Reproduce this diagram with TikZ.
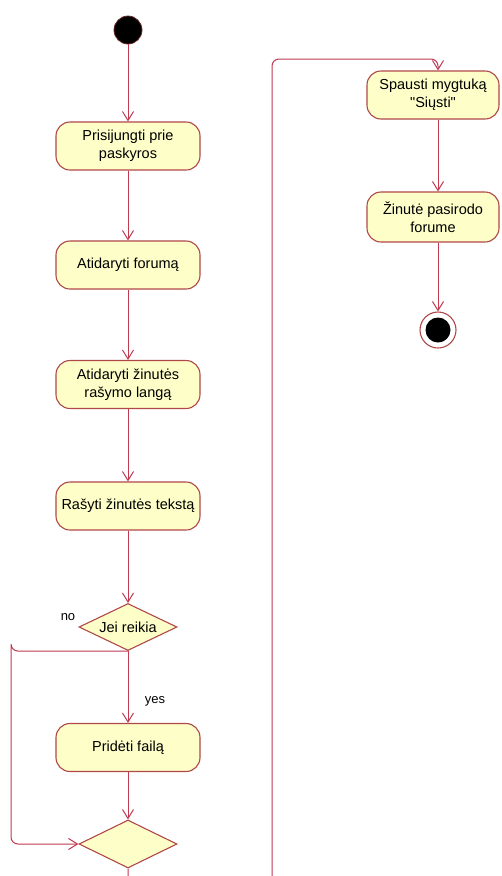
\documentclass[tikz,border=0pt]{standalone}
\usepackage{fontspec}
\setmainfont{Liberation Sans}[Ligatures=TeXOff]
\usetikzlibrary{shapes.geometric,arrows.meta}

\definecolor{actfill}{HTML}{FEFEC8}
\definecolor{boxline}{HTML}{B04848}
\definecolor{flowline}{HTML}{C03A50}

\begin{document}
\begin{tikzpicture}[
  x=1pt, y=-1pt,
  action/.style={rectangle, rounded corners=14pt, draw=boxline, fill=actfill,
    line width=1.1pt, minimum width=144pt, minimum height=48pt, inner sep=0pt,
    align=center, font=\fontsize{14.5}{18}\selectfont},
  decision/.style={diamond, aspect=2.1, draw=boxline, fill=actfill,
    line width=1.1pt, minimum width=98pt, minimum height=47pt, inner sep=0pt,
    font=\fontsize{14.5}{18}\selectfont},
  startdot/.style={circle, fill=black, draw=boxline!60!black, line width=0.8pt,
    minimum size=28pt, inner sep=0pt},
  enddot/.style={circle, draw=boxline, fill=white, line width=1.1pt,
    minimum size=36pt, inner sep=0pt,
    path picture={\fill[black] (path picture bounding box.center) circle (12.5pt);}},
  flow/.style={draw=flowline, line width=1pt,
    -{Straight Barb[length=9pt,width=11pt,line width=1pt]}},
  guard/.style={font=\fontsize{13}{15}\selectfont}
]
\fill[white] (0,0) rectangle (501,876);
\clip (0,0) rectangle (501,876);

% left column of actions
\node[startdot] (start) at (128,30) {};
\node[action] (login) at (128,146) {Prisijungti prie\\paskyros};
\node[action] (forum) at (128,265) {Atidaryti forumą};
\node[action] (window) at (128,384.5) {Atidaryti žinutės\\rašymo langą};
\node[action] (write) at (128,506) {Rašyti žinutės tekstą};
\node[decision] (need) at (128,627) {Jei reikia};
\node[action] (attach) at (128,747.5) {Pridėti failą};
\node[decision, minimum height=48pt] (merge) at (128,844) {};

% guard labels
\node[guard] (nolbl) at (68,617) {no};
\node[guard] (yeslbl) at (155,701) {yes};

% right column
\node[action, minimum width=132pt] (send) at (433,95) {Spausti mygtuką\\"Siųsti"};
\node[action, minimum width=132pt, minimum height=50pt] (shown) at (433,217) {Žinutė pasirodo\\forume};
\node[enddot] (end) at (438,330) {};

% routing points
\coordinate (leftrail) at (11,651);
\coordinate (under) at (128,895);
\coordinate (railtop) at (272,59);

% connectors
\draw[flow] (start) -- (login);
\draw[flow] (login) -- (forum);
\draw[flow] (forum) -- (window);
\draw[flow] (window) -- (write);
\draw[flow] (write) -- (need);
\draw[flow] (need.south) -- (attach.north);
\draw[flow, rounded corners=7pt] (need.south) -| (leftrail) |- (merge.west);
\draw[flow] (attach) -- (merge.north);
\draw[flow, rounded corners=7pt] (merge.south) -- (under) -| (railtop)
  -- (railtop -| end) -- (send.north -| end);
\draw[flow] (send.south -| end) -- (shown.north -| end);
\draw[flow] (shown.south -| end) -- (end.north);
\end{tikzpicture}
\end{document}
